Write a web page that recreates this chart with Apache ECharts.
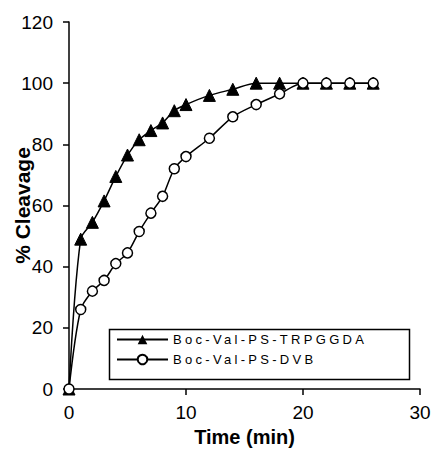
<!DOCTYPE html>
<html><head><meta charset="utf-8">
<script src="https://cdn.jsdelivr.net/npm/echarts@6/dist/echarts.min.js"></script>
<style>html,body{margin:0;padding:0;background:#fff}#c{width:434px;height:468px}</style>
</head><body><div id="c"></div>
<script>
var times = [0,1,2,3,4,5,6,7,8,9,10,12,14,16,18,20,22,24,26];
var trpggda = [0,49,54.5,61.5,69.5,76.5,81.5,84.5,87,91,93,96,98,100,100,100,100,100,100];
var dvb = [0,26,32,35.5,41,44.5,51.5,57.5,63,72,76,82,89,93,96.5,100,100,100,100];
var nameA = 'Boc-Val-PS-TRPGGDA';
var nameB = 'Boc-Val-PS-DVB';
var xTitle = 'Time (min)';
var yTitle = '% Cleavage';

function pairs(v){ return times.map(function(t,i){ return [t, v[i]]; }); }
var chart = echarts.init(document.getElementById('c'), null, {renderer:'svg'});
var font = 'Liberation Sans, Arial, sans-serif';
chart.setOption({
  animation:false,
  backgroundColor:'#fff',
  grid:{left:69, right:14, top:22, bottom:79, containLabel:false, outerBoundsMode:'none'},
  xAxis:{type:'value', min:0, max:30, interval:10,
    name:xTitle, nameLocation:'middle', nameGap:38, nameMoveOverlap:false,
    nameTextStyle:{fontFamily:font, fontWeight:'bold', fontSize:20, color:'#000'},
    axisLine:{lineStyle:{color:'#000', width:1.5}},
    axisTick:{length:6, lineStyle:{color:'#000', width:1.5}},
    axisLabel:{fontFamily:font, fontSize:19, color:'#000', margin:14},
    splitLine:{show:false}},
  yAxis:{type:'value', min:0, max:120, interval:20,
    name:yTitle, nameLocation:'middle', nameGap:36, nameMoveOverlap:false,
    nameTextStyle:{fontFamily:font, fontWeight:'bold', fontSize:21, color:'#000'},
    axisLine:{show:true, lineStyle:{color:'#000', width:1.5}},
    axisTick:{show:true, length:6, lineStyle:{color:'#000', width:1.5}},
    axisLabel:{fontFamily:font, fontSize:19, color:'#000', margin:16},
    splitLine:{show:false}},
  legend:{orient:'vertical', left:116, top:333, padding:0, itemWidth:51, itemHeight:12, itemGap:7,
    textStyle:{fontFamily:font, fontSize:13, color:'#000'},
    data:[nameA, nameB]},
  graphic:[{type:'rect', left:107, top:327, shape:{width:300, height:50},
    style:{fill:'none', stroke:'#000', lineWidth:1.5}, z:0}],
  series:[
    {name:nameA, type:'line', data:pairs(trpggda), smooth:0.3,
     symbol:'triangle', symbolSize:12,
     lineStyle:{color:'#000', width:1.5}, itemStyle:{color:'#000', borderColor:'#000'}},
    {name:nameB, type:'line', data:pairs(dvb), smooth:0.3,
     symbol:'circle', symbolSize:10,
     lineStyle:{color:'#000', width:1.5}, itemStyle:{color:'#fff', borderColor:'#000', borderWidth:1.5}}
  ]
});
function spaceLegend(){
  var texts = document.querySelectorAll('#c svg text');
  texts.forEach(function(t){
    if (t.textContent === nameA || t.textContent === nameB) t.style.letterSpacing = '3.3px';
  });
}
spaceLegend();
chart.on('finished', spaceLegend);
</script></body></html>
